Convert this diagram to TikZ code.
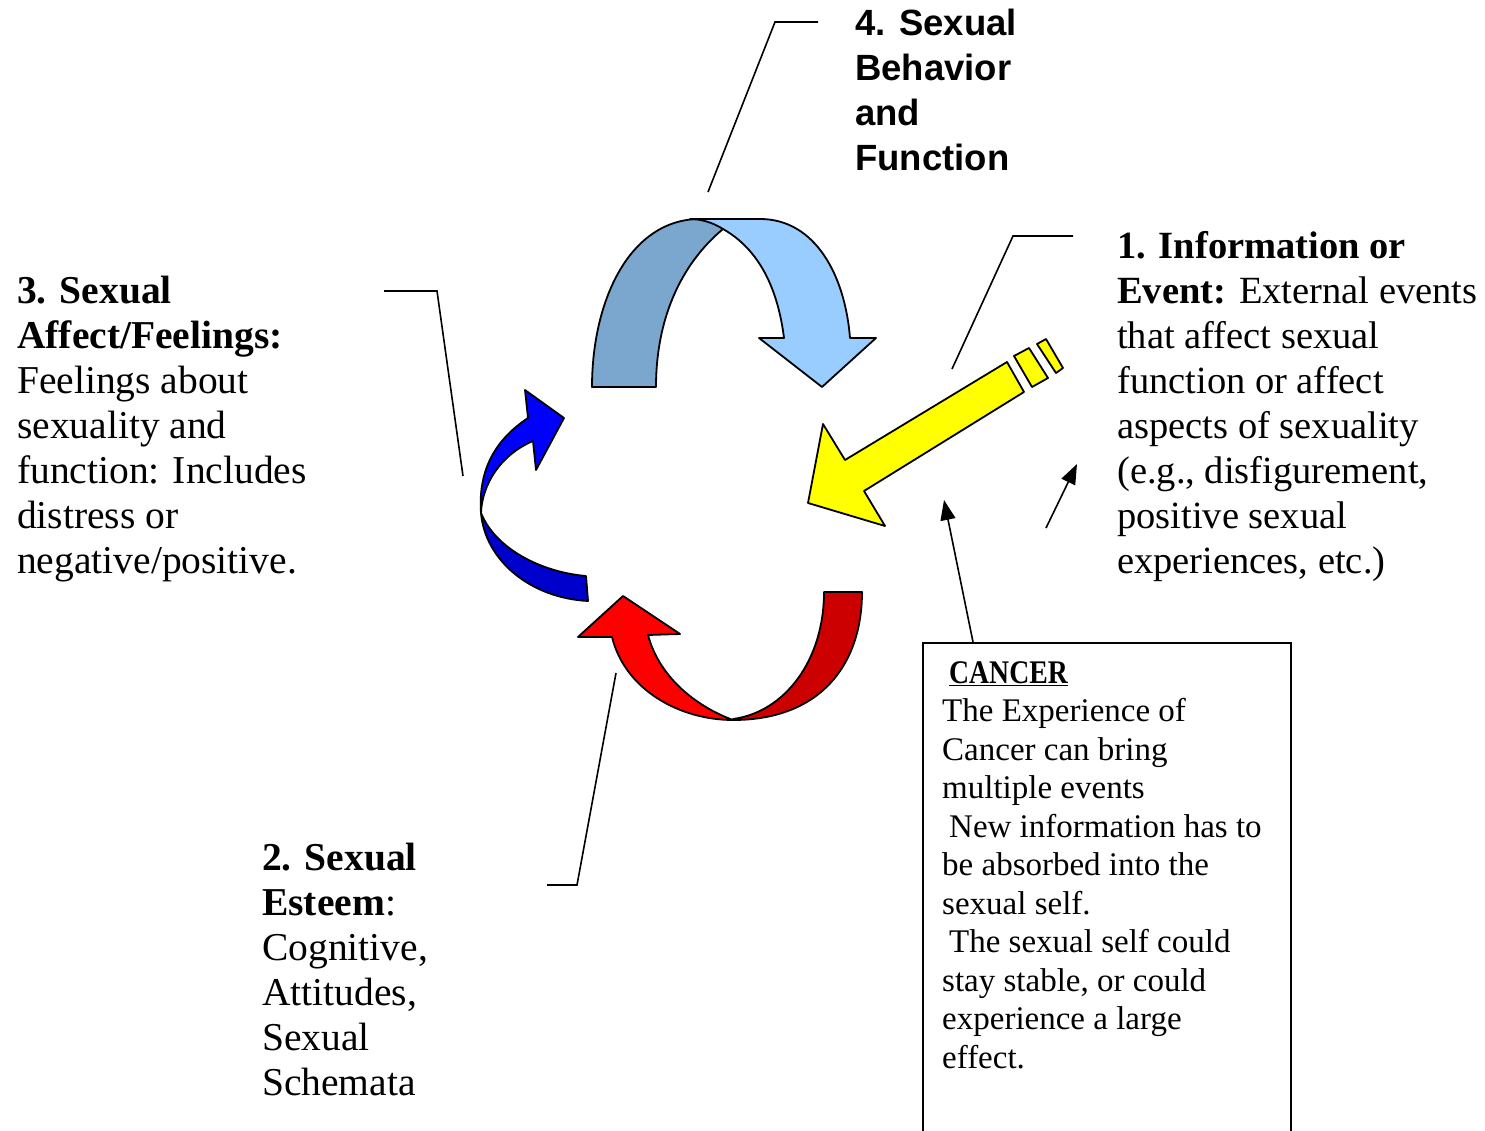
\documentclass[tikz,border=0pt]{standalone}
\usepackage{fontspec}
\setmainfont{Liberation Serif}
\newfontfamily\headsans{Liberation Sans}
\usetikzlibrary{arrows.meta}
\definecolor{skyblue}{HTML}{99CCFF}
\definecolor{steelback}{HTML}{7BA7CF}
\definecolor{deepblue}{HTML}{0000CC}
\definecolor{deepred}{HTML}{CC0000}
\definecolor{brightyellow}{HTML}{FFFF00}

\begin{document}
\begin{tikzpicture}[x=1pt,y=-1pt,
    lbl/.style={anchor=base west,inner sep=0pt,align=left,font=\fontsize{39.5}{45}\selectfont},
    hdr/.style={anchor=base west,inner sep=0pt,align=left,font=\headsans\bfseries\fontsize{36.5}{45}\selectfont},
    boxtxt/.style={anchor=base west,inner sep=0pt,align=left,font=\fontsize{33}{38.5}\selectfont},
    ribbon/.style={draw=black,line width=1.8pt,line join=round},
    lead/.style={line width=1.6pt},
    tip/.style={line width=1.6pt,-{Triangle[length=20pt,width=15pt]}}]
    \useasboundingbox (0,0) rectangle (1485,1131);

    % the four ribbons
    \filldraw[ribbon,fill=steelback] (592,387) .. controls (592,300) and (630,219) .. (700,219)
        .. controls (710,221) and (717,224) .. (723,229)
        .. controls (680,265) and (656,320) .. (656,387) -- cycle;
    \filldraw[ribbon,fill=skyblue] (690,219) -- (760,219) .. controls (815,219) and (845,275) .. (850,338)
        -- (876,338) -- (822,387) -- (759,338) -- (784,338)
        .. controls (778,290) and (760,250) .. (723,229)
        .. controls (712,222) and (700,219) .. (690,219) -- cycle;

    \filldraw[ribbon,fill=deepblue] (481,513) .. controls (485,560) and (530,598) .. (588,601)
        -- (586,576) .. controls (540,572) and (495,548) .. (481,513) -- cycle;
    \filldraw[ribbon,fill=blue] (481,513) .. controls (478,470) and (495,440) .. (528,418)
        -- (525,390) -- (564,418) -- (536,470) -- (533,441)
        .. controls (500,455) and (482,485) .. (481,513) -- cycle;

    \filldraw[ribbon,fill=deepred] (733,720) .. controls (820,720) and (862,665) .. (862,592)
        -- (824,592) .. controls (824,660) and (785,712) .. (733,719) -- cycle;
    \filldraw[ribbon,fill=red] (578,637) -- (612,637) .. controls (625,690) and (680,720) .. (733,720)
        .. controls (700,708) and (660,680) .. (648,635) -- (680,634) -- (623,596) -- cycle;

    \filldraw[ribbon,fill=brightyellow] (808,503) -- (823,424) -- (845,460) -- (1007,362) -- (1024,392)
        -- (864,491) -- (885,526) -- cycle;
    \filldraw[ribbon,fill=brightyellow] (1014,356) -- (1029,348) -- (1048,378) -- (1032,387) -- cycle;
    \filldraw[ribbon,fill=brightyellow] (1037,344) -- (1046,339) -- (1063,368) -- (1056,373) -- cycle;

    % labels (placed at the baseline of their last line)
    \node[hdr] (behav) at (855,171) {4. Sexual\\Behavior\\and\\Function};
    \node[lbl,font=\fontsize{38.5}{45}\selectfont] (info) at (1117,573) {\textbf{1. Information or}\\\textbf{Event:} External events\\that affect sexual\\function or affect\\aspects of sexuality\\(e.g., disfigurement,\\positive sexual\\experiences, etc.)};
    \node[lbl] (feel) at (17,573) {\textbf{3. Sexual}\\\textbf{Affect/Feelings:}\\Feelings about\\sexuality and\\function: Includes\\distress or\\negative/positive.};
    \node[lbl] (esteem) at (262,1095) {\textbf{2. Sexual}\\\textbf{Esteem}:\\Cognitive,\\Attitudes,\\Sexual\\Schemata};

    \node[draw,line width=1.6pt,anchor=north west,minimum width=368pt,minimum height=500pt,inner sep=0pt] (cancer) at (922,642) {};
    \node[boxtxt] (cancertxt) at (942,1068) {\hspace*{7pt}\scalebox{0.84}[1]{\textbf{\underline{CANCER}}}\\The Experience of\\Cancer can bring\\multiple events\\\hspace*{7pt}New information has to\\be absorbed into the\\sexual self.\\\hspace*{7pt}The sexual self could\\stay stable, or could\\experience a large\\effect.};

    % leader lines
    \coordinate (b0) at (708,192); \coordinate (b1) at (775,22); \coordinate (b2) at (818,22);
    \coordinate (f0) at (463,476); \coordinate (f1) at (437,291); \coordinate (f2) at (384,291);
    \coordinate (i0) at (952,369); \coordinate (i1) at (1013,236); \coordinate (i2) at (1073,236);
    \coordinate (e0) at (616,673); \coordinate (e1) at (577,885); \coordinate (e2) at (547,885);
    \draw[lead] (b0) -- (b1) -- (b2);
    \draw[lead] (f0) -- (f1) -- (f2);
    \draw[lead] (i0) -- (i1) -- (i2);
    \draw[lead] (e0) -- (e1) -- (e2);

    \coordinate (ctop) at (973,642); \coordinate (cend) at (944,500);
    \coordinate (p0) at (1046,528); \coordinate (p1) at (1077,464);
    \draw[tip] (ctop) -- (cend);
    \draw[tip] (p0) -- (p1);
\end{tikzpicture}
\end{document}
